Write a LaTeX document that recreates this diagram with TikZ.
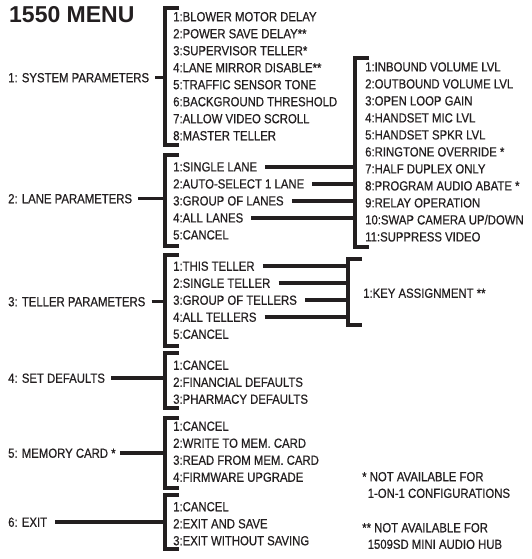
\documentclass[tikz,border=0pt]{standalone}
\usepackage{fontspec}
\setmainfont{Liberation Sans}
\newfontfamily\narrowfont[FakeStretch=0.86, FakeBold=0.6]{Liberation Sans}
\usetikzlibrary{positioning}
\definecolor{ink}{HTML}{231F20}

\begin{document}
\begin{tikzpicture}[
    x=1pt, y=-1pt,
    menu/.style={font=\bfseries\fontsize{23}{26}\selectfont, text=ink, inner sep=0pt, anchor=west},
    lvl/.style={font=\narrowfont\fontsize{13.2}{16.6}\selectfont, text=ink, inner sep=0pt, anchor=west, text height=9.5pt, text depth=0pt},
    nextrow/.style={lvl, below=17pt of #1.west, anchor=west},
    note/.style={font=\narrowfont\fontsize{13.2}{16.6}\selectfont, text=ink, inner sep=0pt, anchor=west, align=left},
    brk/.style={draw=ink, line width=3.8pt},
    conn/.style={draw=ink, line width=3.8pt}
]
\useasboundingbox (0,0) rectangle (531,559);

\node[menu] (title) at (9,15) {1550 MENU};

% top level
\node[lvl] (sys) at (8,77.5) {1: SYSTEM PARAMETERS};
\node[lvl] (lane) at (8,198.5) {2: LANE PARAMETERS};
\node[lvl] (tell) at (8,301.5) {3: TELLER PARAMETERS};
\node[lvl] (dflt) at (8,378) {4: SET DEFAULTS};
\node[lvl] (mem) at (8,453) {5: MEMORY CARD *};
\node[lvl] (exit) at (8,522) {6: EXIT};

% system parameters
\node[lvl] (sys1) at (173,16.5) {1:BLOWER MOTOR DELAY};
\node[nextrow=sys1] (sys2) {2:POWER SAVE DELAY**};
\node[nextrow=sys2] (sys3) {3:SUPERVISOR TELLER*};
\node[nextrow=sys3] (sys4) {4:LANE MIRROR DISABLE**};
\node[nextrow=sys4] (sys5) {5:TRAFFIC SENSOR TONE};
\node[nextrow=sys5] (sys6) {6:BACKGROUND THRESHOLD};
\node[nextrow=sys6] (sys7) {7:ALLOW VIDEO SCROLL};
\node[nextrow=sys7] (sys8) {8:MASTER TELLER};

% lane parameters
\node[lvl] (lane1) at (173,166.7) {1:SINGLE LANE};
\node[nextrow=lane1] (lane2) {2:AUTO-SELECT 1 LANE};
\node[nextrow=lane2] (lane3) {3:GROUP OF LANES};
\node[nextrow=lane3] (lane4) {4:ALL LANES};
\node[nextrow=lane4] (lane5) {5:CANCEL};

% audio settings
\node[lvl] (aud1) at (365,66.7) {1:INBOUND VOLUME LVL};
\node[nextrow=aud1] (aud2) {2:OUTBOUND VOLUME LVL};
\node[nextrow=aud2] (aud3) {3:OPEN LOOP GAIN};
\node[nextrow=aud3] (aud4) {4:HANDSET MIC LVL};
\node[nextrow=aud4] (aud5) {5:HANDSET SPKR LVL};
\node[nextrow=aud5] (aud6) {6:RINGTONE OVERRIDE *};
\node[nextrow=aud6] (aud7) {7:HALF DUPLEX ONLY};
\node[nextrow=aud7] (aud8) {8:PROGRAM AUDIO ABATE *};
\node[nextrow=aud8] (aud9) {9:RELAY OPERATION};
\node[nextrow=aud9] (aud10) {10:SWAP CAMERA UP/DOWN};
\node[nextrow=aud10] (aud11) {11:SUPPRESS VIDEO};

% teller parameters
\node[lvl] (tell1) at (173,266) {1:THIS TELLER};
\node[nextrow=tell1] (tell2) {2:SINGLE TELLER};
\node[nextrow=tell2] (tell3) {3:GROUP OF TELLERS};
\node[nextrow=tell3] (tell4) {4:ALL TELLERS};
\node[nextrow=tell4] (tell5) {5:CANCEL};
\node[lvl] (key1) at (363,293) {1:KEY ASSIGNMENT **};

% set defaults
\node[lvl] (dflt1) at (173,365) {1:CANCEL};
\node[nextrow=dflt1] (dflt2) {2:FINANCIAL DEFAULTS};
\node[nextrow=dflt2] (dflt3) {3:PHARMACY DEFAULTS};

% memory card
\node[lvl] (mem1) at (173,426) {1:CANCEL};
\node[nextrow=mem1] (mem2) {2:WRITE TO MEM. CARD};
\node[nextrow=mem2] (mem3) {3:READ FROM MEM. CARD};
\node[nextrow=mem3] (mem4) {4:FIRMWARE UPGRADE};

% exit
\node[lvl] (exit1) at (173,506.5) {1:CANCEL};
\node[nextrow=exit1] (exit2) {2:EXIT AND SAVE};
\node[nextrow=exit2] (exit3) {3:EXIT WITHOUT SAVING};

% footnotes
\node[note] (note1) at (362,485) {* NOT AVAILABLE FOR\\\hspace*{5.5pt}1-ON-1 CONFIGURATIONS};
\node[note] (note2) at (362,536) {** NOT AVAILABLE FOR\\\hspace*{5.5pt}1509SD MINI AUDIO HUB};

% brackets
\coordinate (sysT) at (165,8);    \coordinate (sysB) at (165,145);
\coordinate (laneT) at (165,155); \coordinate (laneB) at (165,246);
\coordinate (tellT) at (165,255); \coordinate (tellB) at (165,346);
\coordinate (dfltT) at (165,353); \coordinate (dfltB) at (165,408);
\coordinate (memT) at (165,418);  \coordinate (memB) at (165,488);
\coordinate (exitT) at (165,495); \coordinate (exitB) at (165,549);
\coordinate (audT) at (355,58);   \coordinate (audB) at (355,247);
\coordinate (keyT) at (348,259);  \coordinate (keyB) at (348,325);

\draw[brk] ([xshift=14pt]sysT) -- (sysT) -- (sysB) -- ([xshift=14pt]sysB);
\draw[brk] ([xshift=14pt]laneT) -- (laneT) -- (laneB) -- ([xshift=14pt]laneB);
\draw[brk] ([xshift=14pt]tellT) -- (tellT) -- (tellB) -- ([xshift=14pt]tellB);
\draw[brk] ([xshift=14pt]dfltT) -- (dfltT) -- (dfltB) -- ([xshift=14pt]dfltB);
\draw[brk] ([xshift=14pt]memT) -- (memT) -- (memB) -- ([xshift=14pt]memB);
\draw[brk] ([xshift=14pt]exitT) -- (exitT) -- (exitB) -- ([xshift=14pt]exitB);
\draw[brk] ([xshift=14pt]audT) -- (audT) -- (audB) -- ([xshift=14pt]audB);
\draw[brk] ([xshift=14pt]keyT) -- (keyT) -- (keyB) -- ([xshift=14pt]keyB);

% connectors
\draw[conn] ([xshift=6pt]sys.east) -- (sys.east -| sysT);
\draw[conn] ([xshift=6pt]lane.east) -- (lane.east -| laneT);
\draw[conn] ([xshift=6pt]tell.east) -- (tell.east -| tellT);
\draw[conn] ([xshift=6pt]dflt.east) -- (dflt.east -| dfltT);
\draw[conn] ([xshift=4pt]mem.east) -- (mem.east -| memT);
\draw[conn] ([xshift=8pt]exit.east) -- (exit.east -| exitT);

\draw[conn] ([xshift=8pt]lane1.east) -- (lane1.east -| audT);
\draw[conn] ([xshift=8pt]lane2.east) -- (lane2.east -| audT);
\draw[conn] ([xshift=8pt]lane3.east) -- (lane3.east -| audT);
\draw[conn] ([xshift=8pt]lane4.east) -- (lane4.east -| audT);

\draw[conn] ([xshift=8pt]tell1.east) -- (tell1.east -| keyT);
\draw[conn] ([xshift=8pt]tell2.east) -- (tell2.east -| keyT);
\draw[conn] ([xshift=8pt]tell3.east) -- (tell3.east -| keyT);
\draw[conn] ([xshift=8pt]tell4.east) -- (tell4.east -| keyT);
\end{tikzpicture}
\end{document}
